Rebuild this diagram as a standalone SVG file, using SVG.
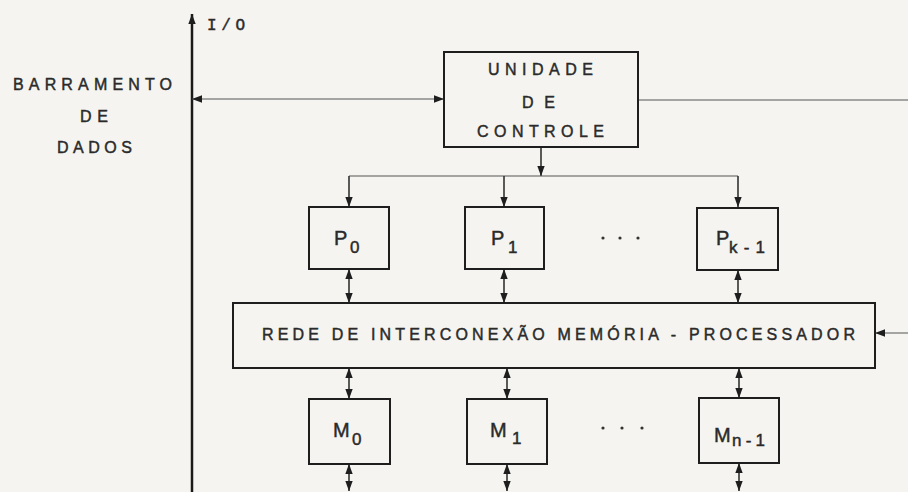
<svg xmlns="http://www.w3.org/2000/svg" width="908" height="492" viewBox="0 0 908 492">
  <style>
    .bg { fill: #f5f4f0; }
    .box { fill: none; stroke: #1e1e1e; stroke-width: 2; }
    .bus { fill: none; stroke: #1a1a1a; stroke-width: 2.5; }
    .thin { fill: none; stroke: #555; stroke-width: 1.2; }
    .link { fill: none; stroke: #333; stroke-width: 1.6; }
    text { fill: #2a2a2a; stroke: #2a2a2a; stroke-width: 0.45; }
    .lbl { font-family: "Liberation Sans", Arial, sans-serif; font-size: 16px; }
    .big { font-family: "Liberation Sans", Arial, sans-serif; font-size: 20px; }
    .sub { font-family: "Liberation Sans", Arial, sans-serif; font-size: 17px; }
    .mono { font-family: "Liberation Mono", "Courier New", monospace; font-size: 16px; }
    .dot { fill: #333; }
  </style>
  <defs>
    <marker id="ah" markerUnits="userSpaceOnUse" markerWidth="11" markerHeight="9" refX="10" refY="4.5" orient="auto-start-reverse" viewBox="0 0 11 9">
      <path d="M0,0.8 L10,4.5 L0,8.2 Z" fill="#1e1e1e"/>
    </marker>
  </defs>
  <rect class="bg" x="0" y="0" width="908" height="492"/>

  <g id="connectors">
    <!-- main bus -->
    <path class="bus" d="M192,492 V14" marker-end="url(#ah)"/>
    <!-- data bus to control unit -->
    <path class="thin" d="M192,99 H444" marker-start="url(#ah)" marker-end="url(#ah)"/>
    <!-- control unit to right edge -->
    <path class="thin" d="M638,100 H908"/>
    <!-- right edge to network -->
    <path class="thin" d="M908,333 H875" marker-end="url(#ah)"/>
    <!-- control unit down -->
    <path class="link" d="M541,147 V176" marker-end="url(#ah)"/>
    <path class="thin" d="M349,176 H738"/>
    <path class="link" d="M349,176 V207" marker-end="url(#ah)"/>
    <path class="link" d="M504,176 V207" marker-end="url(#ah)"/>
    <path class="link" d="M738,176 V207" marker-end="url(#ah)"/>
    <!-- processors to network -->
    <path class="link" d="M349,269 V303" marker-start="url(#ah)" marker-end="url(#ah)"/>
    <path class="link" d="M504,269 V303" marker-start="url(#ah)" marker-end="url(#ah)"/>
    <path class="link" d="M738,270 V303" marker-start="url(#ah)" marker-end="url(#ah)"/>
    <!-- network to memories -->
    <path class="link" d="M349,368 V399" marker-start="url(#ah)" marker-end="url(#ah)"/>
    <path class="link" d="M507,368 V399" marker-start="url(#ah)" marker-end="url(#ah)"/>
    <path class="link" d="M739,368 V398" marker-start="url(#ah)" marker-end="url(#ah)"/>
    <!-- memories down -->
    <path class="link" d="M349,464 V491" marker-start="url(#ah)" marker-end="url(#ah)"/>
    <path class="link" d="M507,464 V491" marker-start="url(#ah)" marker-end="url(#ah)"/>
    <path class="link" d="M739,463 V491" marker-start="url(#ah)" marker-end="url(#ah)"/>
  </g>

  <g id="io-label">
    <text class="mono" x="207" y="30" textLength="38" lengthAdjust="spacing">I/O</text>
  </g>

  <g id="barramento">
    <text class="lbl" x="13" y="90" textLength="159" lengthAdjust="spacing">BARRAMENTO</text>
    <text class="lbl" x="80" y="122" textLength="28" lengthAdjust="spacing">DE</text>
    <text class="lbl" x="57" y="153" textLength="75" lengthAdjust="spacing">DADOS</text>
  </g>

  <g id="unidade-controle">
    <rect class="box" x="444" y="52" width="194" height="95"/>
    <text class="lbl" x="488" y="75" textLength="105" lengthAdjust="spacing">UNIDADE</text>
    <text class="lbl" x="522" y="108" textLength="33" lengthAdjust="spacing">DE</text>
    <text class="lbl" x="477" y="137" textLength="127" lengthAdjust="spacing">CONTROLE</text>
  </g>

  <g id="p0">
    <rect class="box" x="309" y="207" width="80" height="62"/>
    <text class="big" x="334" y="245">P</text>
    <text class="sub" x="350" y="253">0</text>
  </g>
  <g id="p1">
    <rect class="box" x="465" y="207" width="79" height="62"/>
    <text class="big" x="491" y="245">P</text>
    <text class="sub" x="508" y="253">1</text>
  </g>
  <g id="p-dots">
    <circle class="dot" cx="603" cy="238" r="1.6"/>
    <circle class="dot" cx="620" cy="238" r="1.6"/>
    <circle class="dot" cx="638" cy="238" r="1.6"/>
  </g>
  <g id="pk1">
    <rect class="box" x="697" y="208" width="81" height="62"/>
    <text class="big" x="716" y="245">P</text>
    <text class="sub" x="729" y="253" textLength="36" lengthAdjust="spacing">k-1</text>
  </g>

  <g id="rede">
    <rect class="box" x="233" y="303" width="642" height="65"/>
    <text class="lbl" x="262" y="340" textLength="593" lengthAdjust="spacing">REDE DE INTERCONEXÃO MEMÓRIA - PROCESSADOR</text>
  </g>

  <g id="m0">
    <rect class="box" x="309" y="399" width="81" height="65"/>
    <text class="big" x="333" y="437">M</text>
    <text class="sub" x="352" y="445">0</text>
  </g>
  <g id="m1">
    <rect class="box" x="467" y="399" width="80" height="65"/>
    <text class="big" x="490" y="437">M</text>
    <text class="sub" x="512" y="444">1</text>
  </g>
  <g id="m-dots">
    <circle class="dot" cx="603" cy="428" r="1.6"/>
    <circle class="dot" cx="622" cy="428" r="1.6"/>
    <circle class="dot" cx="642" cy="428" r="1.6"/>
  </g>
  <g id="mn1">
    <rect class="box" x="699" y="398" width="80" height="65"/>
    <text class="big" x="714" y="442">M</text>
    <text class="sub" x="732" y="446" textLength="33" lengthAdjust="spacing">n-1</text>
  </g>
</svg>
